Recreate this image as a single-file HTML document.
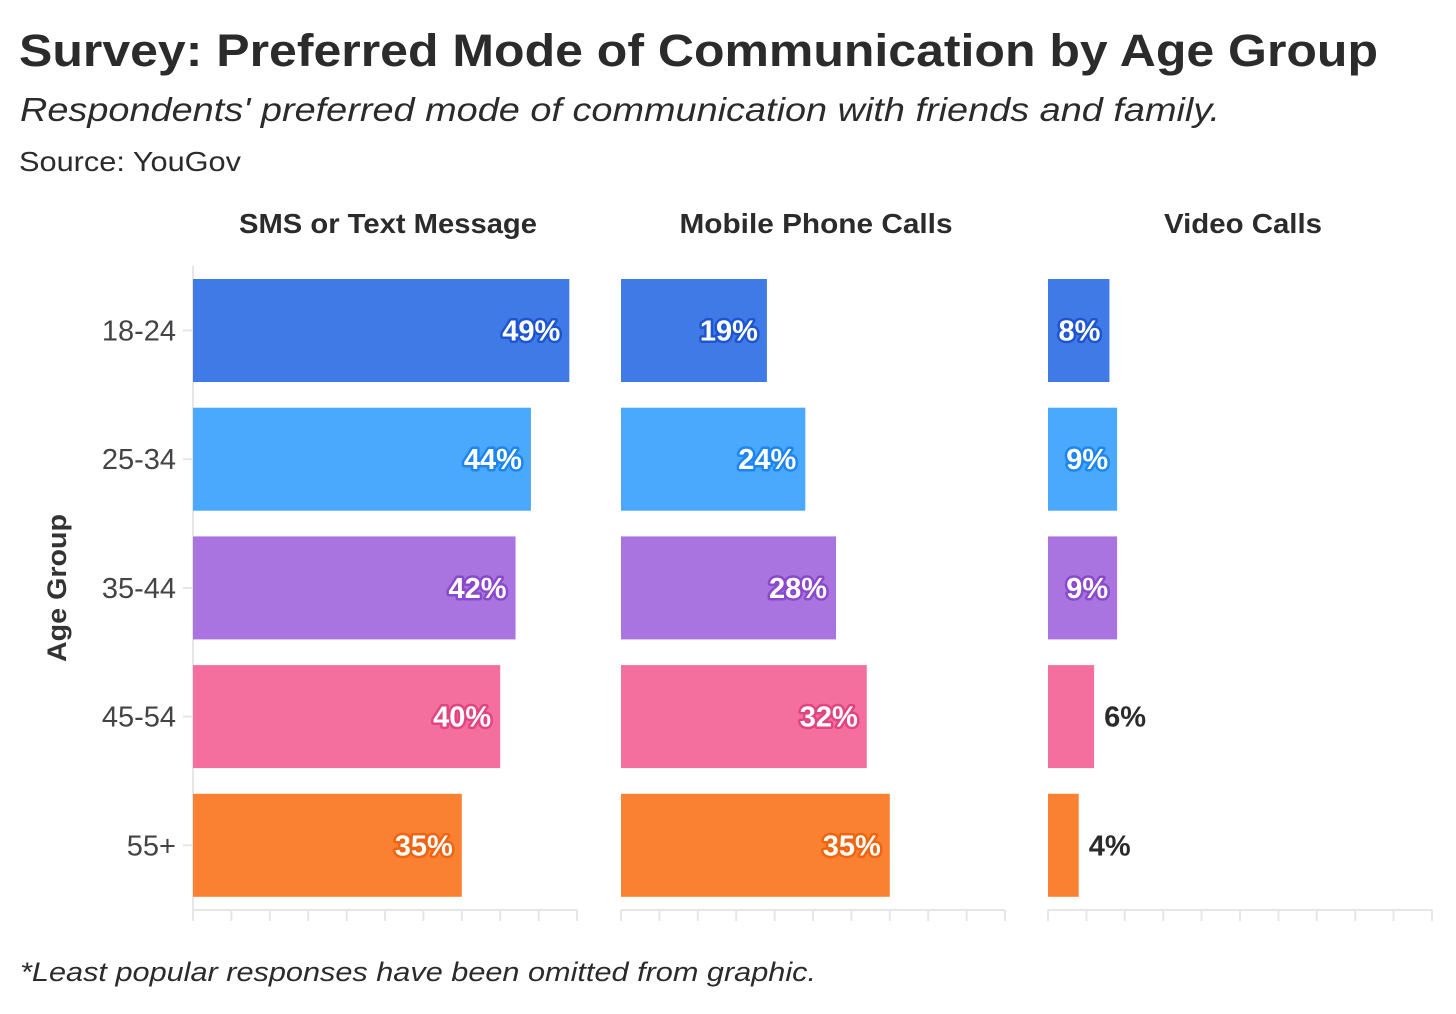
<!DOCTYPE html>
<html><head><meta charset="utf-8"><style>
html,body{margin:0;padding:0;background:#fff;}
body{width:1456px;height:1009px;overflow:hidden;font-family:"Liberation Sans",sans-serif;}
</style></head><body>
<svg id="chart" width="1456" height="1009" xmlns="http://www.w3.org/2000/svg">
<text x="19" y="66" font-size="45" font-weight="bold" fill="#2b2b2b" textLength="1359" lengthAdjust="spacingAndGlyphs">Survey: Preferred Mode of Communication by Age Group</text>
<text x="20" y="121" font-size="33" font-style="italic" fill="#2b2b2b" textLength="1200" lengthAdjust="spacingAndGlyphs">Respondents' preferred mode of communication with friends and family.</text>
<text x="19" y="171" font-size="28" fill="#2b2b2b" textLength="222" lengthAdjust="spacingAndGlyphs">Source: YouGov</text>
<text x="20" y="981" font-size="27" font-style="italic" fill="#2b2b2b" textLength="796" lengthAdjust="spacingAndGlyphs">*Least popular responses have been omitted from graphic.</text>
<text transform="translate(66,588) rotate(-90)" text-anchor="middle" font-size="27" font-weight="bold" fill="#333" textLength="148" lengthAdjust="spacingAndGlyphs">Age Group</text>
<g id="plot"></g>
</svg>
<script>
const panels = ["SMS or Text Message", "Mobile Phone Calls", "Video Calls"];
const ageGroups = ["18-24", "25-34", "35-44", "45-54", "55+"];
const smsValues = [49, 44, 42, 40, 35];
const callValues = [19, 24, 28, 32, 35];
const videoValues = [8, 9, 9, 6, 4];
const xTicks = [0,5,10,15,20,25,30,35,40,45,50];
const allValues = [smsValues, callValues, videoValues];
const colors = ["#3f7ae6","#4aa8fd","#a974e0","#f46e9e","#fa8132"];
const strokes = ["#1d55d0","#1c85f0","#8a48cc","#e24480","#ef6410"];
const titleLens = [298, 273, 158];
const NS = "http://www.w3.org/2000/svg";
const plot = document.getElementById("plot");
const panelX = [193, 621, 1048];
const panelW = 384;
const top0 = 266, step = 128.7, barH = 103;
function xScale(p, v){ return panelX[p] + v / 50 * panelW; }
function yScale(i){ return top0 + i * step + 13; }
function mk(tag, attrs){ const e = document.createElementNS(NS, tag); for (const k in attrs) e.setAttribute(k, attrs[k]); plot.appendChild(e); return e; }
ageGroups.forEach((g, i) => {
  const t = mk("text", {x: 176, y: yScale(i) + barH/2 + 10, "text-anchor": "end", "font-size": 29, fill: "#444"});
  t.textContent = g;
  
  
  const tk = mk("line", {x1: 183, x2: 193, y1: yScale(i) + barH/2, y2: yScale(i) + barH/2, stroke: "#e6e6e6", "stroke-width": 2});
  
  
});
panels.forEach((name, p) => {
  const h = mk("text", {x: panelX[p] + panelW/2 + 3, y: 233, "text-anchor": "middle", "font-size": 28, "font-weight": "bold", fill: "#2b2b2b", textLength: titleLens[p], lengthAdjust: "spacingAndGlyphs"});
  h.textContent = name;
  
  
  if (p === 0) {
    const yl = mk("line", {x1: 193, x2: 193, y1: top0, y2: 910, stroke: "#e6e6e6", "stroke-width": 2});
    
    
  }
  const xl = mk("line", {x1: panelX[p], x2: panelX[p] + panelW, y1: 910, y2: 910, stroke: "#e6e6e6", "stroke-width": 2});
  
  
  xTicks.forEach(v => {
    const tk = mk("line", {x1: xScale(p, v), x2: xScale(p, v), y1: 910, y2: 921, stroke: "#e6e6e6", "stroke-width": 2});
    
    
  });
  allValues[p].forEach((v, i) => {
    const x0 = panelX[p], x1 = xScale(p, v), y = yScale(i);
    const r = mk("rect", {x: x0, y: y, width: x1 - x0, height: barH, fill: colors[i]});
    
    
    const inside = (x1 - x0) > 55;
    const lbl = mk("text", {x: inside ? x1 - 9 : x1 + 10, y: y + barH/2 + 10, "text-anchor": inside ? "end" : "start", "font-size": 29, "font-weight": "bold"});
    if (inside) { lbl.setAttribute("fill", "#fff"); lbl.setAttribute("stroke", strokes[i]); lbl.setAttribute("stroke-width", 5); lbl.setAttribute("paint-order", "stroke"); lbl.setAttribute("stroke-linejoin", "round"); }
    else lbl.setAttribute("fill", "#2b2b2b");
    lbl.textContent = v + "%";
    
    
  });
});
</script>
</body></html>
